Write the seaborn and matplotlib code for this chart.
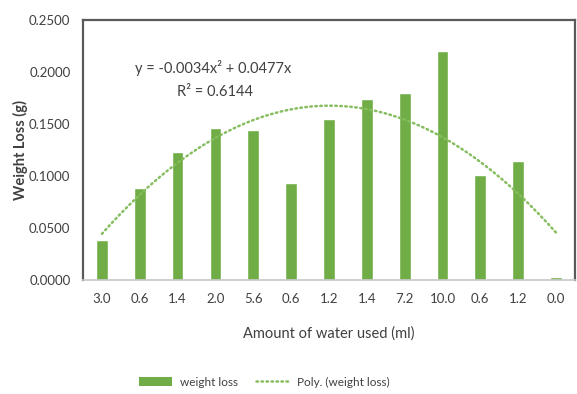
import numpy as np
import pandas as pd
import matplotlib
matplotlib.use("Agg")
import matplotlib.pyplot as plt
import seaborn as sns
from matplotlib.patches import Patch
from matplotlib.lines import Line2D

# Water amounts (ml) for each sample, in plotting order
water_labels = ["3.0", "0.6", "1.4", "2.0", "5.6", "0.6", "1.2", "1.4", "7.2", "10.0", "0.6", "1.2", "0.0"]
# Measured weight loss (g)
weight_loss = [0.0384, 0.0880, 0.1226, 0.1456, 0.1440, 0.0928, 0.1542,
               0.1734, 0.1792, 0.2201, 0.1008, 0.1145, 0.0032]
# Polynomial trendline coefficients (order 2, zero intercept)
poly_a = -0.0034
poly_b = 0.0477
r_squared = 0.6144

sns.set_theme(style="white")
plt.rcParams["font.family"] = ["Lato", "DejaVu Sans"]

GREEN = "#70AD47"
TREND = "#86bd5f"
TEXT = "#404040"
DOTS = (0, (0.6, 1.4))

df = pd.DataFrame({"pos": [str(i) for i in range(len(weight_loss))],
                   "loss": weight_loss})

fig = plt.figure(figsize=(5.77, 3.94), dpi=100)
ax = fig.add_axes([0.1438, 0.2893, 0.8527, 0.6612])

sns.barplot(data=df, x="pos", y="loss", color=GREEN, saturation=1,
            width=0.31, ax=ax, order=df["pos"].tolist())

# Trendline evaluated from the fitted equation over sample index 1..n
xs = np.linspace(1, len(weight_loss), 200)
trend = pd.DataFrame({"x": xs - 1, "y": poly_a * xs**2 + poly_b * xs})
sns.lineplot(data=trend, x="x", y="y", ax=ax, color=TREND, lw=1.8,
             linestyle=DOTS, dash_capstyle="round")

ax.set_xlim(-0.5, len(weight_loss) - 0.5)
ax.set_ylim(0, 0.25)
ax.set_yticks(np.arange(0, 0.2501, 0.05))
ax.set_yticklabels([f"{v:.4f}" for v in np.arange(0, 0.2501, 0.05)])
ax.set_xticks(range(len(water_labels)))
ax.set_xticklabels(water_labels)
ax.tick_params(axis="both", length=0, labelsize=9.5, labelcolor=TEXT)
ax.tick_params(axis="y", pad=9)
ax.tick_params(axis="x", pad=9)

ax.set_xlabel("Amount of water used (ml)", fontsize=10.5, color=TEXT, labelpad=16)
ax.set_ylabel("Weight Loss (g)", fontsize=10.5, color=TEXT, fontweight="bold", labelpad=1)

for side in ("left", "top", "right"):
    ax.spines[side].set_color("#5a5a5a")
    ax.spines[side].set_linewidth(1.6)
ax.spines["bottom"].set_color("#c8c8c8")
ax.spines["bottom"].set_linewidth(1.2)

ax.text(0.265, 0.815, "y = -0.0034x² + 0.0477x", transform=ax.transAxes,
        ha="center", va="center", fontsize=10.5, color=TEXT)
ax.text(0.268, 0.722, f"R² = {r_squared:.4f}", transform=ax.transAxes,
        ha="center", va="center", fontsize=10.5, color=TEXT)

handles = [Patch(facecolor=GREEN, edgecolor="none"),
           Line2D([0], [0], color=TREND, lw=1.8, linestyle=DOTS,
                  dash_capstyle="round")]
fig.legend(handles, ["weight loss", "Poly. (weight loss)"], loc="center",
           bbox_to_anchor=(0.458, 0.03), ncol=2, frameon=False, fontsize=8.5,
           handlelength=2.8, handleheight=0.8, handletextpad=0.6,
           columnspacing=1.6, labelcolor=TEXT)

fig.savefig("out.png", dpi=100)
